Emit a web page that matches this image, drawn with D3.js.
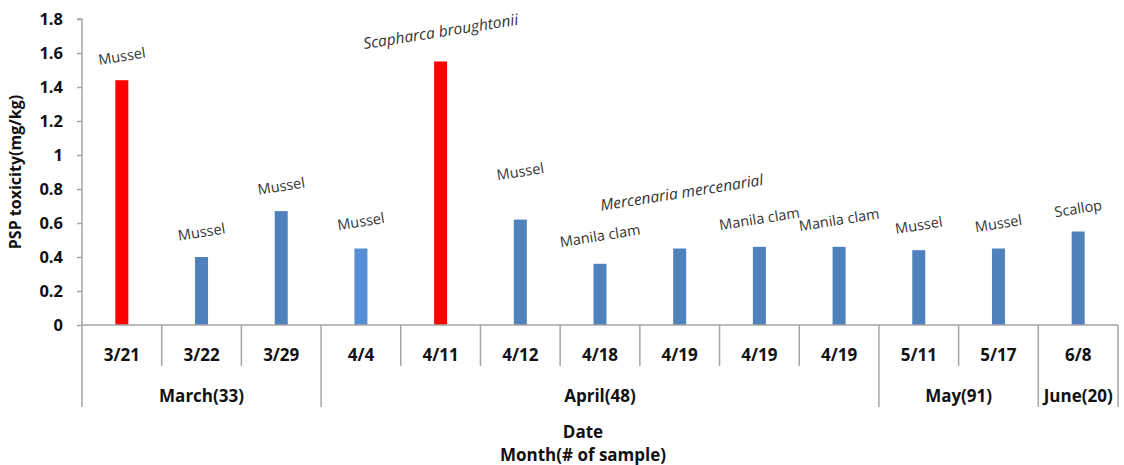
<!DOCTYPE html>
<html>
<head>
<meta charset="utf-8">
<script src="https://cdn.jsdelivr.net/npm/d3@7"></script>
<style>
  body { margin: 0; background: #fff; }
  text { font-family: "Open Sans", "Noto Sans", sans-serif; }
</style>
</head>
<body>
<script>
// data
const dates = ['3/21', '3/22', '3/29', '4/4', '4/11', '4/12', '4/18', '4/19', '4/19', '4/19', '5/11', '5/17', '6/8'];
const toxicity = [1.44, 0.40, 0.67, 0.45, 1.55, 0.62, 0.36, 0.45, 0.46, 0.46, 0.44, 0.45, 0.55];
const species = ['Mussel', 'Mussel', 'Mussel', 'Mussel', 'Scapharca broughtonii', 'Mussel', 'Manila clam',
  'Mercenaria mercenarial', 'Manila clam', 'Manila clam', 'Mussel', 'Mussel', 'Scallop'];
const italicSpecies = ['Scapharca broughtonii', 'Mercenaria mercenarial'];
const months = ['March(33)', 'April(48)', 'May(91)', 'June(20)'];
const monthCounts = [3, 7, 2, 1];
const yTicks = [0, 0.2, 0.4, 0.6, 0.8, 1, 1.2, 1.4, 1.6, 1.8];
const highlighted = ['3/21', '4/11'];

const width = 1124;
const height = 465;
const margin = { left: 82, right: 6, top: 19, bottom: 140 };

const svg = d3.select('body').append('svg').attr('width', width).attr('height', height);

const x = d3.scaleBand()
  .domain(d3.range(dates.length))
  .range([margin.left, width - margin.right]);
const y = d3.scaleLinear().domain([0, 1.8]).range([height - margin.bottom, margin.top]);

const axisColor = '#a6a6a6';
const y0 = y(0);
const boldSize = 17;

// y axis
const yAxis = svg.append('g')
  .attr('transform', `translate(${margin.left},0)`)
  .call(d3.axisLeft(y).tickValues(yTicks).tickSize(5).tickPadding(14).tickFormat(d3.format('')));
yAxis.select('.domain').attr('stroke', axisColor).attr('stroke-width', 1.5).attr('d', `M-5,${y(1.8)}H0V${y0}`);
yAxis.selectAll('.tick line').attr('stroke', axisColor).attr('stroke-width', 1.5);
yAxis.selectAll('.tick text')
  .attr('font-size', 16.5).attr('font-weight', 'bold').attr('fill', '#111')
  .attr('font-family', '"Open Sans", sans-serif');

// bars
const barW = 13;
svg.append('g').selectAll('rect')
  .data(toxicity)
  .join('rect')
  .attr('x', (d, i) => x(i) + x.bandwidth() / 2 - barW / 2)
  .attr('y', (d) => y(d))
  .attr('width', barW)
  .attr('height', (d) => y0 - y(d))
  .attr('fill', (d, i) => (highlighted.includes(dates[i]) ? '#ff0000' : i === 3 ? '#558ed5' : '#4f81bd'));

// x axis baseline
svg.append('line')
  .attr('x1', margin.left).attr('x2', width - margin.right)
  .attr('y1', y0).attr('y2', y0)
  .attr('stroke', axisColor).attr('stroke-width', 1.5);

// date level
const dateTickEnd = y0 + 41;
const monthTickEnd = y0 + 82;
const monthStarts = monthCounts.map((c, i) => d3.sum(monthCounts.slice(0, i)));
const isMonthEdge = (i) => monthStarts.includes(i) || i === dates.length;
const edgeX = (i) => (i === dates.length ? x.range()[1] : x(i));

svg.append('g').selectAll('line')
  .data(d3.range(dates.length + 1))
  .join('line')
  .attr('x1', edgeX)
  .attr('x2', edgeX)
  .attr('y1', y0)
  .attr('y2', (i) => (isMonthEdge(i) ? monthTickEnd : dateTickEnd))
  .attr('stroke', axisColor).attr('stroke-width', 1.5);

svg.append('g').selectAll('text')
  .data(dates)
  .join('text')
  .attr('x', (d, i) => x(i) + x.bandwidth() / 2)
  .attr('y', y0 + 36)
  .attr('text-anchor', 'middle')
  .attr('font-size', boldSize).attr('font-weight', 'bold').attr('fill', '#111')
  .text((d) => d);

// month level
svg.append('g').selectAll('text')
  .data(months)
  .join('text')
  .attr('x', (d, i) => (edgeX(monthStarts[i]) + edgeX(monthStarts[i] + monthCounts[i])) / 2)
  .attr('y', y0 + 77)
  .attr('text-anchor', 'middle')
  .attr('font-size', boldSize).attr('font-weight', 'bold').attr('fill', '#111')
  .text((d) => d);

// species labels, lifted a bit more where they would collide
const labelLift = [24, 25, 25, 27, 30, 48, 28, 56, 28, 27, 25, 25, 23];
svg.append('g').selectAll('text')
  .data(species)
  .join('text')
  .attr('transform', (d, i) => {
    const cx = x(i) + x.bandwidth() / 2 + (i === 7 ? 2 : 0);
    const cy = y(toxicity[i]) - labelLift[i];
    return `translate(${cx},${cy}) rotate(-9)`;
  })
  .attr('text-anchor', 'middle')
  .attr('dy', '0.35em')
  .attr('font-size', (d) => (italicSpecies.includes(d) ? 15.5 : 14.5))
  .attr('font-style', (d) => (italicSpecies.includes(d) ? 'italic' : 'normal'))
  .attr('fill', '#333')
  .text((d) => d);

// axis titles
svg.append('text')
  .attr('transform', `translate(21,${(y(1.8) + y0) / 2}) rotate(-90)`)
  .attr('text-anchor', 'middle')
  .attr('font-size', 16).attr('font-weight', 'bold').attr('fill', '#111')
  .text('PSP toxicity(mg/kg)');

svg.append('text')
  .attr('x', 583).attr('y', 438)
  .attr('text-anchor', 'middle')
  .attr('font-size', boldSize).attr('font-weight', 'bold').attr('fill', '#111')
  .text('Date');

svg.append('text')
  .attr('x', 583).attr('y', 461)
  .attr('text-anchor', 'middle')
  .attr('font-size', boldSize).attr('font-weight', 'bold').attr('fill', '#111')
  .text('Month(# of sample)');
</script>
</body>
</html>
